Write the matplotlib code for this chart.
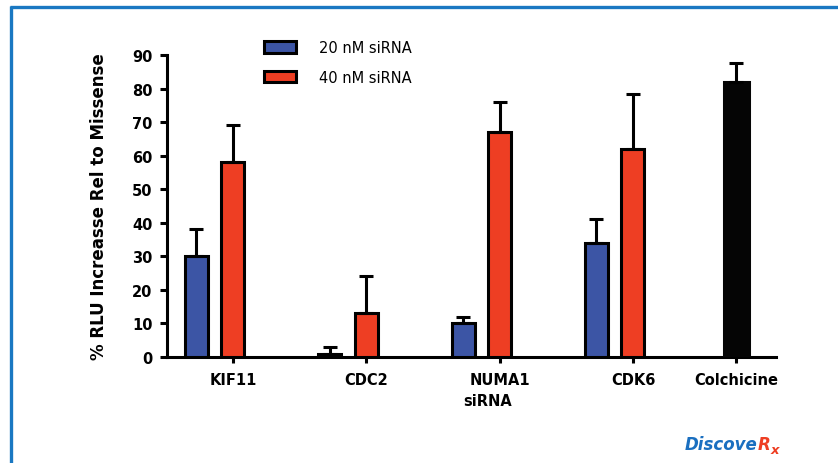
import numpy as np
import matplotlib
matplotlib.use("Agg")
import matplotlib.pyplot as plt
from matplotlib.lines import Line2D

genes = ["KIF11", "CDC2", "NUMA1", "CDK6"]
vals_20nm = [30, 1, 10, 34]
err_20nm = [8, 2, 2, 7]
vals_40nm = [58, 13, 67, 62]
err_40nm = [11, 11, 9, 16.5]
colch_val = [82]
colch_err = [5.5]
tick_labels = ["KIF11", "CDC2", "NUMA1", "CDK6", "Colchicine"]
yticks = [0, 10, 20, 30, 40, 50, 60, 70, 80, 90]

BLUE = "#3c55a5"
RED = "#ee3e23"
BLACK = "#050505"
BORDER = "#1a78c2"

fig = plt.figure(figsize=(8.38, 4.64), dpi=100)
ax = fig.add_axes([167 / 838, 1 - 358 / 464, (776 - 167) / 838, (358 - 56) / 464])

x = np.arange(len(genes))
colch_x = 3.773
lw = 2.2
ekw = dict(elinewidth=2.2, capthick=2.2, capsize=4.7, ecolor="black")

ax.bar(x - 0.274, vals_20nm, 0.1725, color=BLUE, edgecolor="black", linewidth=lw,
       yerr=[np.zeros(len(genes)), err_20nm], error_kw=ekw, label="20 nM siRNA", zorder=3)
ax.bar(x, vals_40nm, 0.1725, color=RED, edgecolor="black", linewidth=lw,
       yerr=[np.zeros(len(genes)), err_40nm], error_kw=ekw, label="40 nM siRNA", zorder=3)
ax.bar([colch_x], colch_val, 0.1875, color=BLACK, edgecolor=BLACK, linewidth=lw,
       yerr=[[0], colch_err], error_kw=ekw, zorder=3)

ax.set_xlim(-0.495, 4.073)
ax.set_ylim(0, 90)
ax.set_yticks(yticks)
ax.set_xticks(list(x) + [colch_x])
ax.set_xticklabels(tick_labels, fontsize=10.5, fontweight="bold")
for lab in ax.get_yticklabels():
    lab.set_fontweight("bold")
    lab.set_fontsize(10.5)

for s in ["top", "right"]:
    ax.spines[s].set_visible(False)
for s in ["left", "bottom"]:
    ax.spines[s].set_linewidth(2.2)
ax.spines["left"].set_bounds(0, 90)
ax.tick_params(axis="y", length=5, width=2.2, pad=5.5)
ax.tick_params(axis="x", length=4.3, width=2.2, pad=6.5)

ax.set_ylabel("% RLU Increasse Rel to Missense", fontsize=12, fontweight="bold", labelpad=17)
ax.set_xlabel("siRNA", fontsize=10.5, fontweight="bold")
ax.xaxis.set_label_coords((488 - 167) / (776 - 167), -0.118)

ax.legend(loc="upper left", bbox_to_anchor=(264 / 838, 1 - 41 / 464),
          bbox_transform=fig.transFigure, frameon=False, fontsize=10.5,
          handlelength=2.2, handleheight=0.82, handletextpad=1.6,
          labelspacing=1.0, borderpad=0, borderaxespad=0)

# border
fig.add_artist(Line2D([10 / 838, 1.0], [1 - 8 / 464, 1 - 8 / 464], color=BORDER, lw=2.4,
                      solid_capstyle="butt", transform=fig.transFigure))
fig.add_artist(Line2D([10.5 / 838, 10.5 / 838], [0, 1 - 7 / 464], color=BORDER, lw=2.4,
                      solid_capstyle="butt", transform=fig.transFigure))

# logo
t1 = fig.text(685 / 838, 1 - 450 / 464, "Discove", color="#1a6fc0", fontsize=12,
              fontweight="bold", fontstyle="italic", ha="left", va="baseline")
fig.canvas.draw()
bb = t1.get_window_extent()
t2 = fig.text(bb.x1 / 838, 1 - 450 / 464, "R", color=RED, fontsize=12,
              fontweight="bold", fontstyle="italic", ha="left", va="baseline")
fig.canvas.draw()
bb2 = t2.get_window_extent()
fig.text(bb2.x1 / 838 + 0.5 / 838, 1 - 454 / 464, "x", color=RED, fontsize=9.5,
         fontweight="bold", fontstyle="italic", ha="left", va="baseline")

fig.savefig("out.png", dpi=100)
